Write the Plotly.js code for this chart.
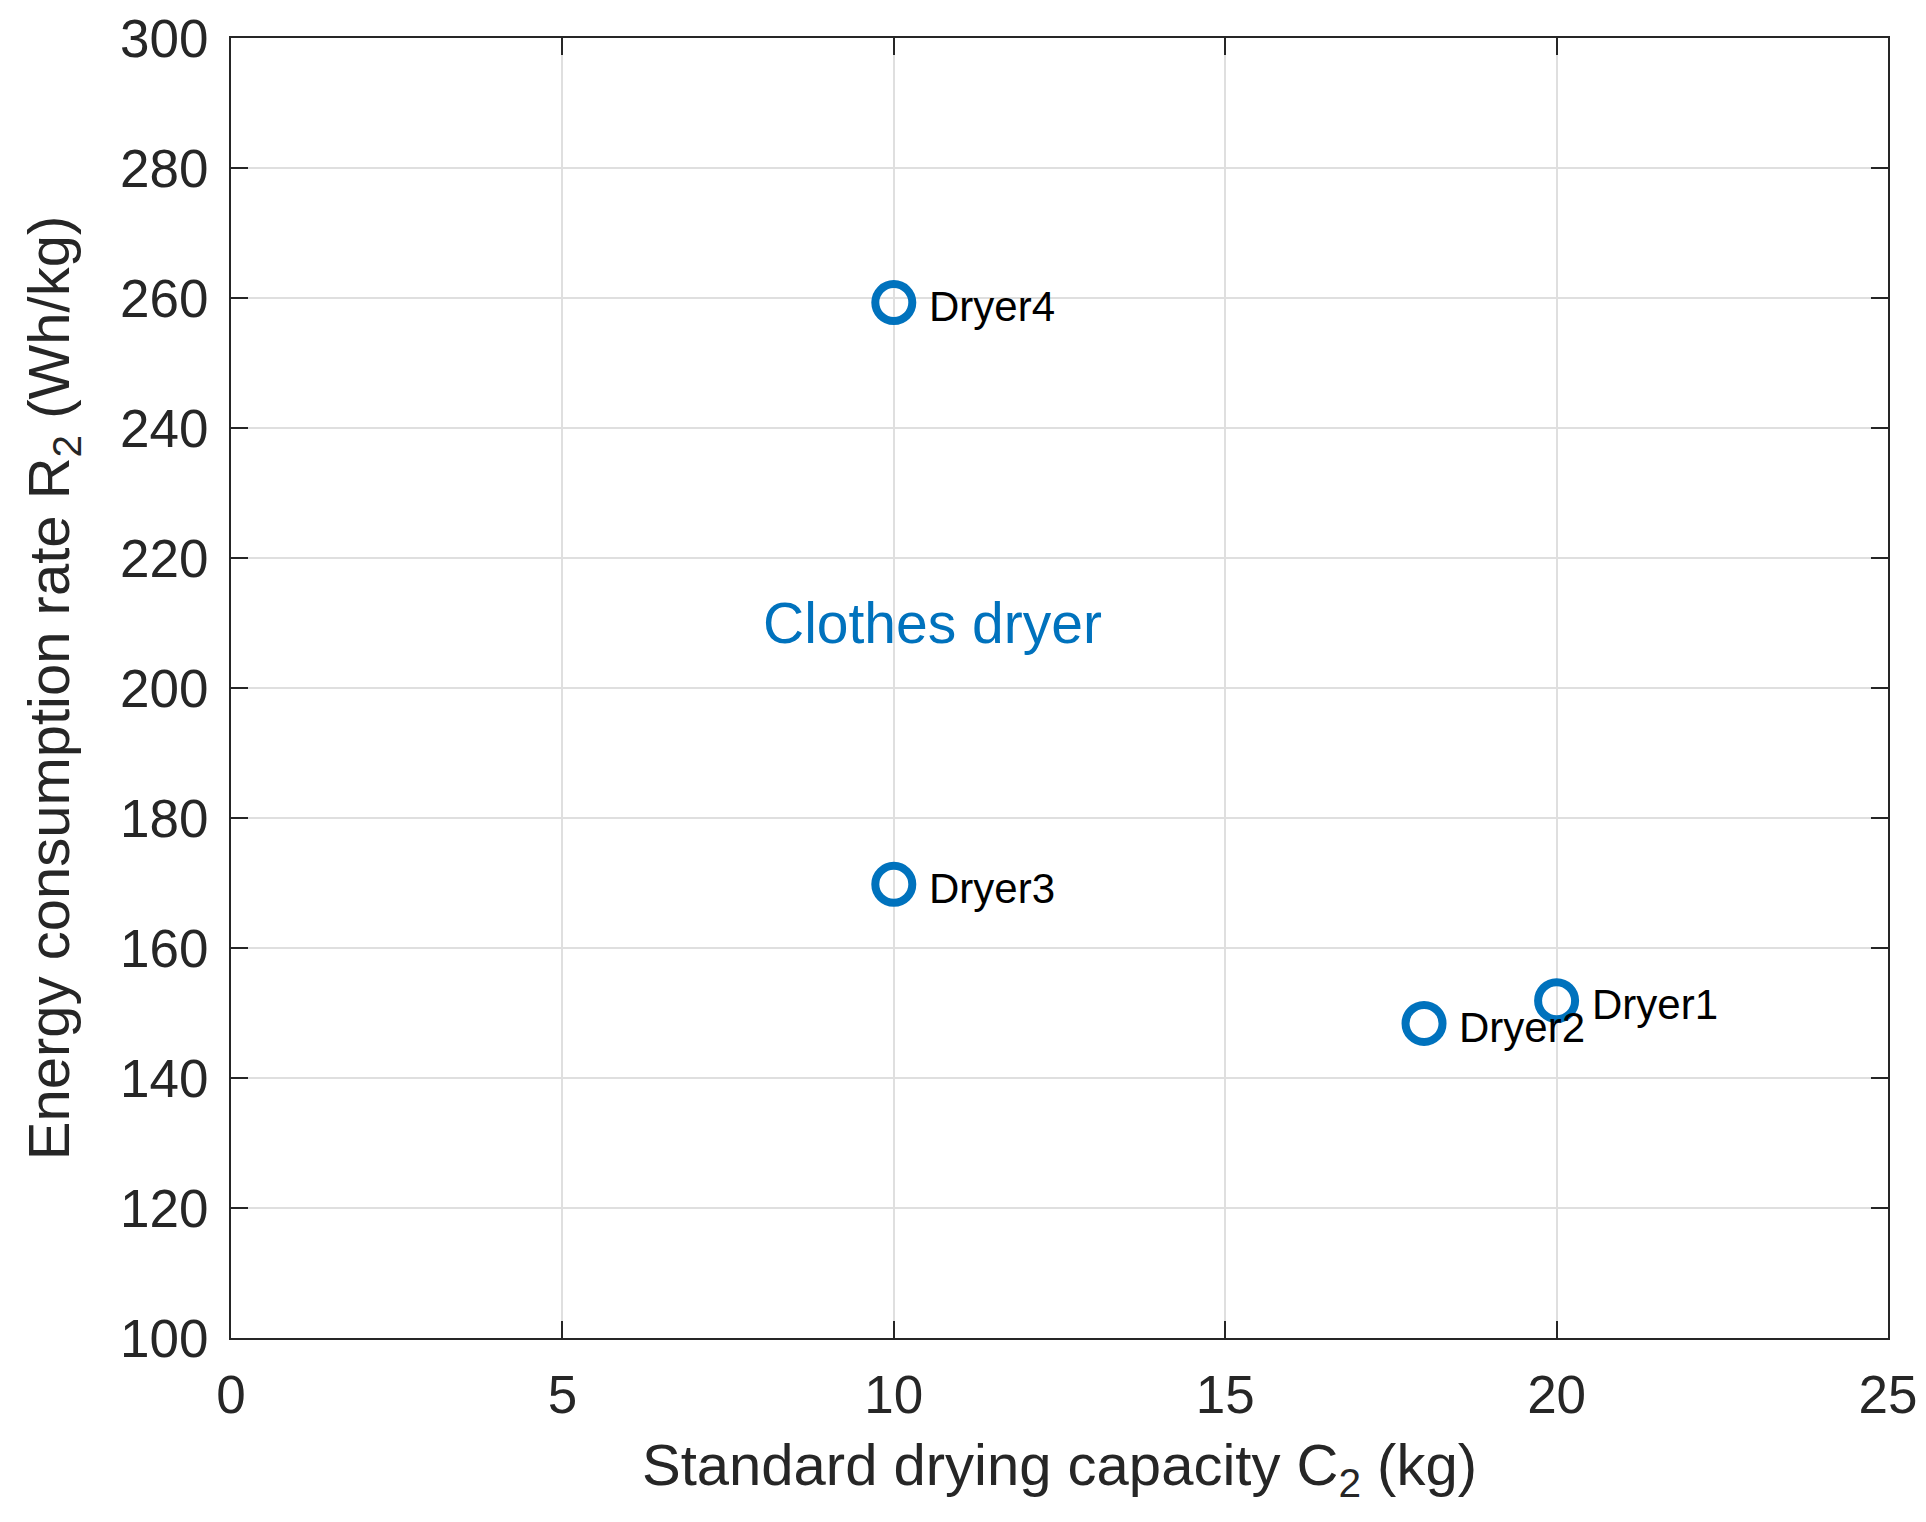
<!DOCTYPE html>
<html>
<head>
<meta charset="utf-8">
<script src="https://cdn.plot.ly/plotly-3.0.1.min.js"></script>
<style>
html,body{margin:0;padding:0;background:#fff;}
#chart{width:1926px;height:1522px;}
</style>
</head>
<body>
<div id="chart"></div>
<script>
// Data
var dryerNames = ['Dryer1', 'Dryer2', 'Dryer3', 'Dryer4'];
var capacityKg = [20, 18, 10, 10];
var energyRate = [151.9, 148.4, 169.8, 259.3];
var xTicks = [0, 5, 10, 15, 20, 25];
var yTicks = [100, 120, 140, 160, 180, 200, 220, 240, 260, 280, 300];
var groupLabel = 'Clothes dryer';
var groupLabelPos = [8, 210];
var labelOffsetX = 0.5;

var FONT = 'Liberation Sans, Arial, Helvetica, sans-serif';
var AXC = '#262626';
var BLUE = '#0072BD';

var trace = {
  type: 'scatter',
  mode: 'markers',
  x: capacityKg,
  y: energyRate,
  marker: {symbol: 'circle-open', size: 37, color: BLUE, line: {color: BLUE, width: 8}},
  hoverinfo: 'skip',
  showlegend: false
};

var annotations = dryerNames.map(function (n, i) {
  return {
    x: capacityKg[i] + labelOffsetX, y: energyRate[i], xref: 'x', yref: 'y',
    text: n, showarrow: false, xanchor: 'left', yanchor: 'middle', yshift: -4,
    font: {family: FONT, size: 42, color: '#000000'}
  };
});
annotations.push({
  x: groupLabelPos[0], y: groupLabelPos[1], xref: 'x', yref: 'y',
  text: groupLabel, showarrow: false, xanchor: 'left', yanchor: 'middle',
  font: {family: FONT, size: 57, color: BLUE}
});

function axisCommon(ticks) {
  return {
    tickmode: 'array', tickvals: ticks, ticktext: ticks.map(String),
    showgrid: true, gridcolor: '#dfdfdf', gridwidth: 2,
    zeroline: false,
    showline: true, linecolor: AXC, linewidth: 2, mirror: 'ticks',
    ticks: 'inside', ticklen: 17, tickwidth: 2, tickcolor: AXC,
    tickfont: {family: FONT, size: 53, color: AXC},
    automargin: false
  };
}

var xaxis = axisCommon(xTicks);
xaxis.range = [0, 25];
xaxis.ticklabelstandoff = 9;
xaxis.title = {text: 'Standard drying capacity C<sub>2</sub> (kg)', font: {family: FONT, size: 58, color: AXC}, standoff: 22};

var yaxis = axisCommon(yTicks);
yaxis.range = [100, 300];
yaxis.ticklabelstandoff = 10;
yaxis.title = {text: 'Energy consumption rate R<sub>2</sub> (Wh/kg)', font: {family: FONT, size: 58, color: AXC}, standoff: 32};

var layout = {
  width: 1926, height: 1522,
  margin: {l: 231, r: 38, t: 38, b: 184, pad: 0},
  paper_bgcolor: '#ffffff', plot_bgcolor: '#ffffff',
  xaxis: xaxis, yaxis: yaxis,
  annotations: annotations,
  showlegend: false
};

Plotly.newPlot('chart', [trace], layout, {displayModeBar: false, staticPlot: true});
</script>
</body>
</html>
